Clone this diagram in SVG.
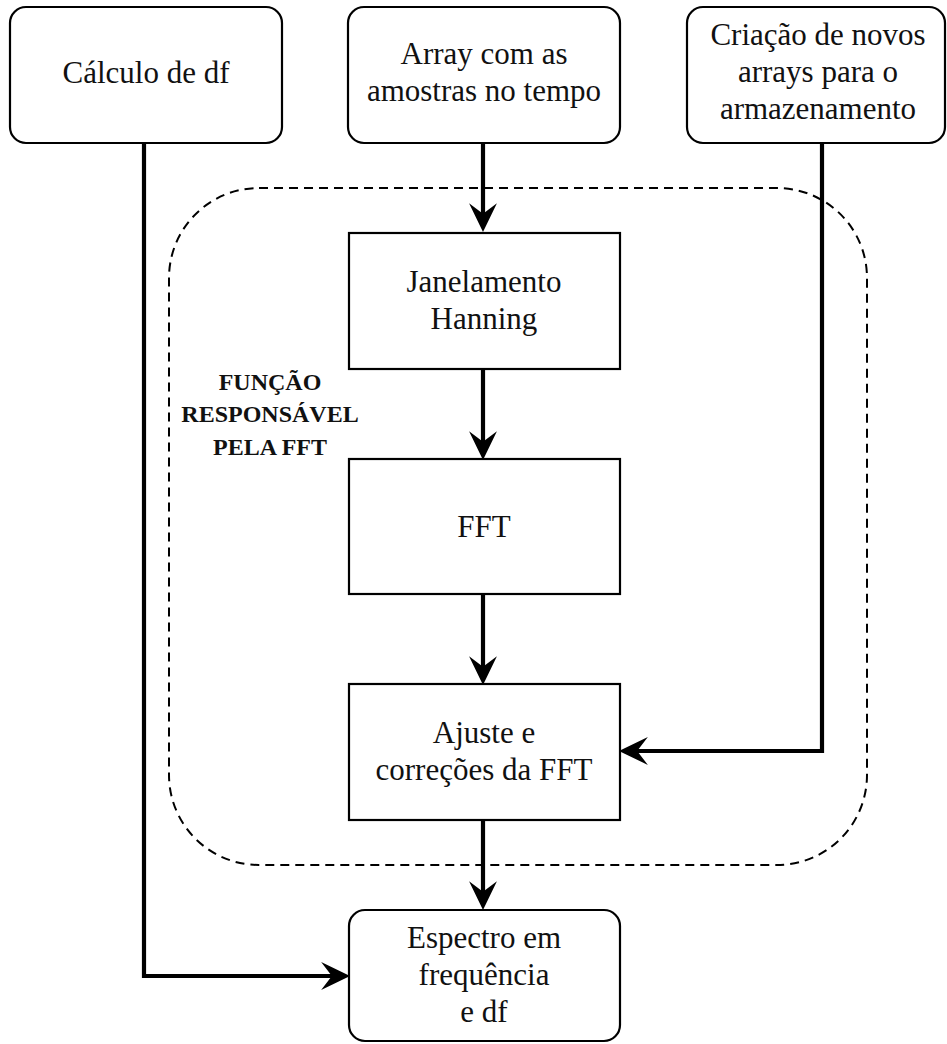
<svg xmlns="http://www.w3.org/2000/svg" width="947" height="1044" viewBox="0 0 947 1044">
  <style>
    .node { fill: #ffffff; stroke: #000000; stroke-width: 2.2; }
    .lbl { font-family: "Liberation Serif", "Times New Roman", serif; font-size: 31px; fill: #111111; text-anchor: middle; }
    .bold { font-family: "Liberation Serif", "Times New Roman", serif; font-size: 24px; font-weight: bold; fill: #111111; text-anchor: middle; }
    .edge { fill: none; stroke: #000000; stroke-width: 4.2; }
    .group { fill: none; stroke: #000000; stroke-width: 2; stroke-dasharray: 9 6; }
  </style>
  <defs>
    <marker id="arrow" markerUnits="userSpaceOnUse" markerWidth="30" markerHeight="30" viewBox="0 -14 28 28" refX="12" refY="0" orient="auto" overflow="visible">
      <path d="M27,0 L0,-13 L10,0 L0,13 Z" fill="#000000"/>
    </marker>
  </defs>
  <rect width="947" height="1044" fill="#ffffff"/>

  <!-- dashed boundary of the FFT function -->
  <g id="fft-function">
    <rect class="group" x="169" y="188" width="698" height="677" rx="90" ry="90"/>
    <text class="bold" x="270" y="390">FUNÇÃO</text>
    <text class="bold" x="270" y="422">RESPONSÁVEL</text>
    <text class="bold" x="270" y="455">PELA FFT</text>
  </g>

  <!-- connectors -->
  <g id="connectors">
    <path class="edge" d="M483,143 V216" marker-end="url(#arrow)"/>
    <path class="edge" d="M483,369 V444" marker-end="url(#arrow)"/>
    <path class="edge" d="M483,594 V669" marker-end="url(#arrow)"/>
    <path class="edge" d="M483,820 V894" marker-end="url(#arrow)"/>
    <path class="edge" d="M822,143 V751 H635" marker-end="url(#arrow)"/>
    <path class="edge" d="M144,143 V976 H334" marker-end="url(#arrow)"/>
  </g>

  <g id="calc-df">
    <rect class="node" x="10" y="7" width="272" height="136" rx="16" ry="16"/>
    <text class="lbl" x="146" y="83">Cálculo de df</text>
  </g>

  <g id="array-amostras">
    <rect class="node" x="348" y="7" width="272" height="136" rx="16" ry="16"/>
    <text class="lbl" x="484" y="64">Array com as</text>
    <text class="lbl" x="484" y="101">amostras no tempo</text>
  </g>

  <g id="novos-arrays">
    <rect class="node" x="687" y="7" width="258" height="136" rx="16" ry="16"/>
    <text class="lbl" x="818" y="45">Criação de novos</text>
    <text class="lbl" x="818" y="82">arrays para o</text>
    <text class="lbl" x="818" y="119">armazenamento</text>
  </g>

  <g id="janelamento">
    <rect class="node" x="349" y="233" width="271" height="136"/>
    <text class="lbl" x="484" y="292">Janelamento</text>
    <text class="lbl" x="484" y="329">Hanning</text>
  </g>

  <g id="fft">
    <rect class="node" x="349" y="459" width="271" height="135"/>
    <text class="lbl" x="484" y="537">FFT</text>
  </g>

  <g id="ajuste">
    <rect class="node" x="349" y="684" width="271" height="136"/>
    <text class="lbl" x="484" y="743">Ajuste e</text>
    <text class="lbl" x="484" y="780">correções da FFT</text>
  </g>

  <g id="espectro">
    <rect class="node" x="349" y="910" width="271" height="131" rx="16" ry="16"/>
    <text class="lbl" x="484" y="948">Espectro em</text>
    <text class="lbl" x="484" y="985">frequência</text>
    <text class="lbl" x="484" y="1022">e df</text>
  </g>
</svg>
